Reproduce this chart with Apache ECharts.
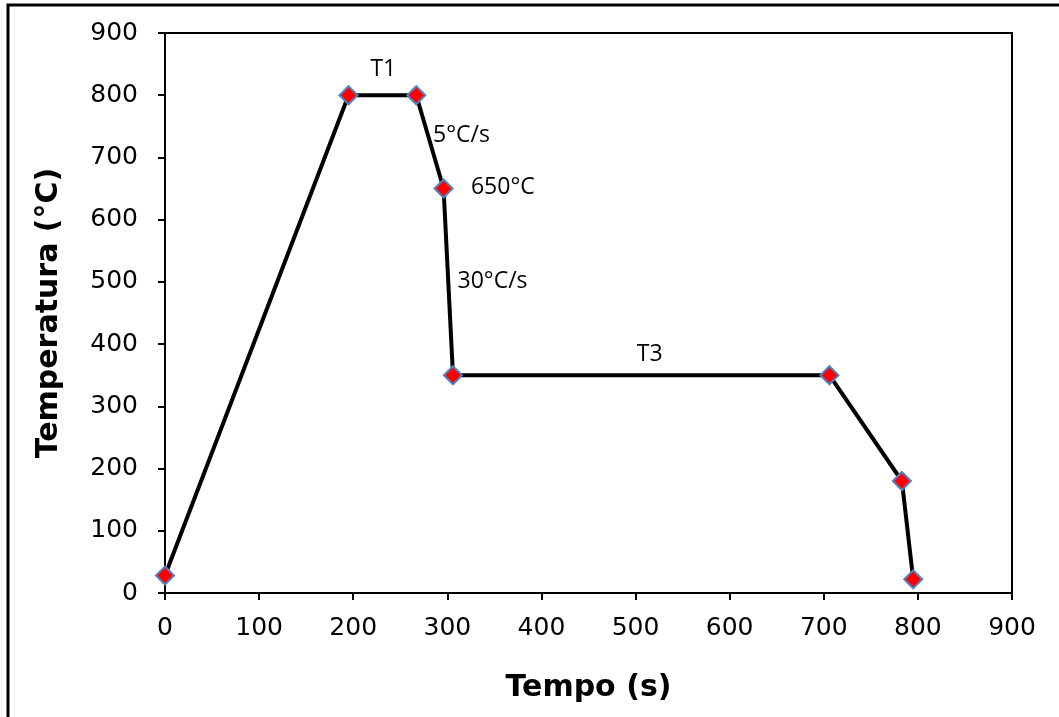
<!DOCTYPE html>
<html>
<head>
<meta charset="utf-8">
<title>Ciclo térmico</title>
<script src="https://cdn.jsdelivr.net/npm/echarts@6/dist/echarts.min.js"></script>
<style>
  html, body { margin: 0; padding: 0; background: #ffffff; }
  #chart { width: 1059px; height: 717px; }
</style>
</head>
<body>
<div id="chart"></div>
<script>
// Heat-treatment cycle: time (s) vs temperature (°C)
const tempo = [0, 195, 267, 296, 306, 706, 783, 795];
const temperatura = [28, 800, 800, 650, 350, 350, 180, 22];

// Text notes placed in data coordinates
const notaTexto = ['T1', '5°C/s', '650°C', '30°C/s', 'T3'];
const notaTempo = [232, 315, 359, 348, 515];
const notaTemp = [841, 736, 651, 500, 383];

const xTicks = { min: 0, max: 900, interval: 100 };
const yTicks = { min: 0, max: 900, interval: 100 };

const chart = echarts.init(document.getElementById('chart'), null, { renderer: 'canvas' });

const tickFont = { fontFamily: 'DejaVu Sans', fontSize: 25, color: '#000000' };
const titleFont = { fontFamily: 'DejaVu Sans', fontSize: 30, fontWeight: 'bold', color: '#000000' };

chart.setOption({
  animation: false,
  backgroundColor: '#ffffff',
  grid: {
    left: 165, right: 47, top: 33, bottom: 124,
    show: true, borderColor: '#000000', borderWidth: 2, backgroundColor: 'transparent'
  },
  graphic: [{
    type: 'rect',
    shape: { x: 8, y: 5, width: 1070, height: 730 },
    style: { fill: 'none', stroke: '#000000', lineWidth: 3 },
    silent: true
  }],
  xAxis: {
    type: 'value',
    min: xTicks.min, max: xTicks.max, interval: xTicks.interval,
    name: 'Tempo (s)',
    nameLocation: 'middle',
    nameGap: 80,
    nameTextStyle: titleFont,
    axisLine: { show: true, onZero: false, lineStyle: { color: '#000000', width: 2 } },
    axisTick: { show: true, inside: false, length: 7, lineStyle: { color: '#000000', width: 2 } },
    axisLabel: Object.assign({ margin: 23 }, tickFont),
    splitLine: { show: false }
  },
  yAxis: {
    type: 'value',
    min: yTicks.min, max: yTicks.max, interval: yTicks.interval,
    name: 'Temperatura (°C)',
    nameLocation: 'middle',
    nameGap: 101,
    nameTextStyle: titleFont,
    axisLine: { show: true, onZero: false, lineStyle: { color: '#000000', width: 2 } },
    axisTick: { show: true, inside: false, length: 7, lineStyle: { color: '#000000', width: 2 } },
    axisLabel: Object.assign({ margin: 27 }, tickFont),
    splitLine: { show: false }
  },
  series: [
    {
      type: 'line',
      data: tempo.map((t, i) => [t, temperatura[i]]),
      lineStyle: { color: '#000000', width: 4 },
      symbol: 'diamond',
      symbolSize: 18,
      itemStyle: { color: '#ff0000', borderColor: '#4f81bd', borderWidth: 2 },
      z: 3
    },
    {
      type: 'scatter',
      data: notaTexto.map((txt, i) => ({ name: txt, value: [notaTempo[i], notaTemp[i]] })),
      symbolSize: 1,
      itemStyle: { color: 'rgba(0,0,0,0)', opacity: 1 },
      label: {
        show: true,
        position: 'inside',
        formatter: p => p.name,
        fontFamily: 'Open Sans',
        fontSize: 23,
        color: '#000000',
        opacity: 1
      },
      silent: true,
      z: 4
    }
  ]
});
</script>
</body>
</html>
